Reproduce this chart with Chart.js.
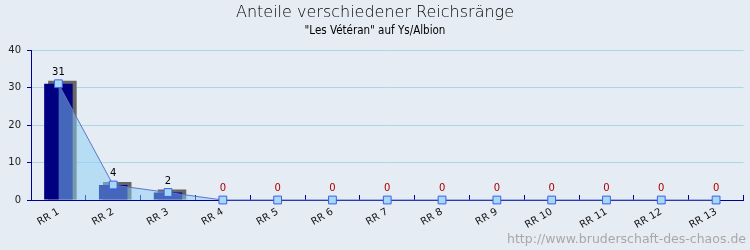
<!DOCTYPE html>
<html lang="de">
<head>
  <meta charset="UTF-8">
  <script src="https://cdn.jsdelivr.net/npm/chart.js"></script>
  <title>Anteile verschiedener Reichsränge</title>
  <style>
    html, body { margin: 0; padding: 0; background: #e6ecf3; }
    #box { position: relative; width: 750px; height: 250px; }
  </style>
</head>
<body>
  <div id="box"><canvas id="grafico" width="750" height="250"></canvas></div>
  <script>
    const titel = "Anteile verschiedener Reichsränge";
    const untertitel = "\"Les Vétéran\" auf Ys/Albion";
    const fusszeile = "http://www.bruderschaft-des-chaos.de";
    const raenge = ["RR 1", "RR 2", "RR 3", "RR 4", "RR 5", "RR 6", "RR 7", "RR 8", "RR 9", "RR 10", "RR 11", "RR 12", "RR 13"];
    const anzahl = [31, 4, 2, 0, 0, 0, 0, 0, 0, 0, 0, 0, 0];
    const yTicks = [0, 10, 20, 30, 40];

    // Schatten hinter den Balken (3D-Effekt)
    const schatten = {
      id: 'schatten',
      beforeDatasetsDraw(chart) {
        const meta = chart.getDatasetMeta(1);
        const c = chart.ctx;
        c.save();
        c.fillStyle = '#666666';
        meta.data.forEach((bar, i) => {
          if (!anzahl[i]) return;
          const p = bar.getProps(['x', 'y', 'base', 'width'], true);
          c.fillRect(p.x - p.width / 2 + 4, p.y - 3, p.width, p.base - p.y + 3);
        });
        c.restore();
      }
    };

    // Werte über den Punkten + Titel + Fußzeile
    const texte = {
      id: 'texte',
      afterDatasetsDraw(chart) {
        const c = chart.ctx;
        const meta = chart.getDatasetMeta(0);
        c.save();
        c.font = '10px "DejaVu Sans"';
        c.textAlign = 'center';
        c.textBaseline = 'alphabetic';
        meta.data.forEach((pt, i) => {
          c.fillStyle = anzahl[i] > 0 ? '#000000' : '#aa0000';
          c.fillText(String(anzahl[i]), pt.x, pt.y - 9);
        });
        c.restore();
      },
      afterDraw(chart) {
        const c = chart.ctx;
        c.save();
        c.textAlign = 'center';
        c.fillStyle = '#000000';
        c.font = '200 16px "DejaVu Sans"';
        c.fillText(titel, 375, 17);
        c.font = '11.5px "DejaVu Sans Condensed", "DejaVu Sans"';
        c.fillText(untertitel, 375, 34);
        c.textAlign = 'right';
        c.fillStyle = '#a8a8a8';
        c.font = '12.5px "DejaVu Sans"';
        c.fillText(fusszeile, 746, 243);
        c.restore();
      }
    };

    const grafico = new Chart(document.getElementById('grafico'), {
      data: {
        labels: raenge,
        datasets: [{
          type: 'line',
          data: anzahl,
          order: 0,
          clip: false,
          borderColor: '#5b76c8',
          borderWidth: 1,
          backgroundColor: 'rgba(135,205,245,0.5)',
          fill: 'origin',
          tension: 0,
          pointStyle: 'rect',
          pointRadius: 5.5,
          pointBorderWidth: 1,
          pointBackgroundColor: '#a8d8f0',
          pointBorderColor: '#3a5ef0'
        }, {
          type: 'bar',
          data: anzahl,
          order: 1,
          backgroundColor: '#000080',
          barPercentage: 0.52,
          categoryPercentage: 1
        }]
      },
      options: {
        responsive: false,
        animation: false,
        layout: { padding: { top: 50, right: 5, left: 0, bottom: 0 } },
        plugins: { legend: { display: false }, tooltip: { enabled: false } },
        scales: {
          x: {
            offset: true,
            afterFit(s) { s.height = 50; },
            border: { color: '#000099', width: 1 },
            grid: { drawOnChartArea: false, color: '#000099', tickLength: -5, offset: true },
            ticks: {
              minRotation: 30, maxRotation: 30, padding: 11,
              color: '#111111', font: { family: 'DejaVu Sans', size: 10 }
            }
          },
          y: {
            min: 0, max: 40,
            afterFit(s) { s.width = 31; },
            afterBuildTicks(s) { s.ticks = yTicks.map(v => ({ value: v })); },
            border: { color: '#000099', width: 1 },
            grid: { color: '#a8d8e8', tickColor: '#000099', tickLength: 4 },
            ticks: { color: '#222222', padding: 6, font: { family: 'DejaVu Sans', size: 10 } }
          }
        }
      },
      plugins: [schatten, texte]
    });
  </script>
</body>
</html>
